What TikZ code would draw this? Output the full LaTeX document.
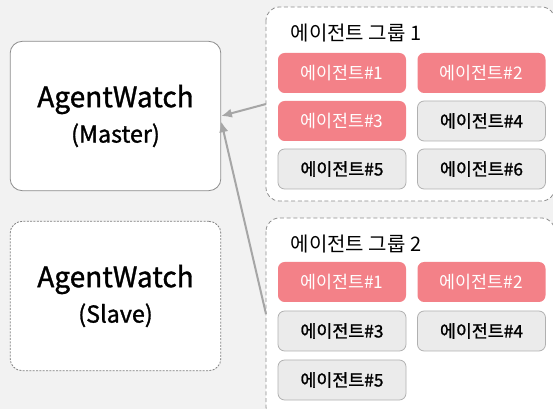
\documentclass[tikz,border=0pt]{standalone}
\usepackage{fontspec}
\setmainfont{Noto Sans CJK KR}
\newfontfamily\medfont{Noto Sans CJK KR}[FakeBold=1.2]
\usetikzlibrary{arrows.meta}
\definecolor{bgcol}{RGB}{242,242,242}
\definecolor{agred}{RGB}{243,129,136}
\definecolor{aggray}{RGB}{235,235,235}
\definecolor{agline}{RGB}{176,176,176}
\definecolor{arrcol}{RGB}{166,166,166}
\tikzset{
  watchbox/.style={draw=black!45, fill=white, rounded corners=9pt, line width=0.6pt,
    minimum width=158pt, minimum height=112pt, align=center, inner sep=0pt},
  groupbox/.style={draw=black!45, fill=white, rounded corners=10pt, line width=0.6pt,
    dash pattern=on 3pt off 2pt},
  agbox/.style={rounded corners=5pt, minimum width=96pt, minimum height=30pt,
    inner sep=0pt, font=\fontsize{13}{15}\selectfont},
  hot/.style={agbox, fill=agred, text=white},
  idle/.style={agbox, fill=aggray, draw=agline, line width=0.6pt, text=black,
    font=\medfont\fontsize{13}{15}\selectfont},
  link/.style={draw=arrcol, line width=1.5pt, -{Latex[length=8pt,width=7pt]}}
}
\begin{document}
\begin{tikzpicture}[x=0.75pt,y=-0.75pt]
	\path[use as bounding box, fill=bgcol] (0,0) rectangle (553,409);
	\begin{scope}
	\clip (0,0) rectangle (553,409);
	
	% watch boxes
	\node[watchbox] (master) at (115.5,116) {{\medfont\fontsize{21}{24}\selectfont AgentWatch}\\[6pt]{\medfont\fontsize{17.5}{20}\selectfont (Master)}};
	\node[watchbox, draw=black!50, dash pattern=on 1.5pt off 1pt] (slave) at (115.5,296) {{\medfont\fontsize{21}{24}\selectfont AgentWatch}\\[6pt]{\medfont\fontsize{17.5}{20}\selectfont (Slave)}};
	
	% group 1
	\draw[groupbox] (266,7) rectangle (555,201);
	\coordinate (grpA) at (266,104);
	\node[anchor=west, font=\fontsize{15}{17}\selectfont] (titA) at (286,33) {에이전트 그룹 1};
	\node[hot]  (a11) at (342,73)  {에이전트\#1};
	\node[hot]  (a12) at (481.5,73)  {에이전트\#2};
	\node[hot]  (a13) at (342,121) {에이전트\#3};
	\node[idle] (a14) at (481.5,121) {에이전트\#4};
	\node[idle] (a15) at (342,169) {에이전트\#5};
	\node[idle] (a16) at (481.5,169) {에이전트\#6};
	
	% group 2
	\draw[groupbox] (266,218) rectangle (555,420);
	\coordinate (grpB) at (266,314);
	\node[anchor=west, font=\fontsize{15}{17}\selectfont] (titB) at (286,244) {에이전트 그룹 2};
	\node[hot]  (a21) at (342,282)  {에이전트\#1};
	\node[hot]  (a22) at (481.5,282)  {에이전트\#2};
	\node[idle] (a23) at (342,331) {에이전트\#3};
	\node[idle] (a24) at (481.5,331) {에이전트\#4};
	\node[idle] (a25) at (342,380) {에이전트\#5};
	
	% links
	\draw[link] (grpA) -- (master.east);
	\draw[link] (grpB) -- (master.-3);
	\end{scope}
\end{tikzpicture}
\end{document}
